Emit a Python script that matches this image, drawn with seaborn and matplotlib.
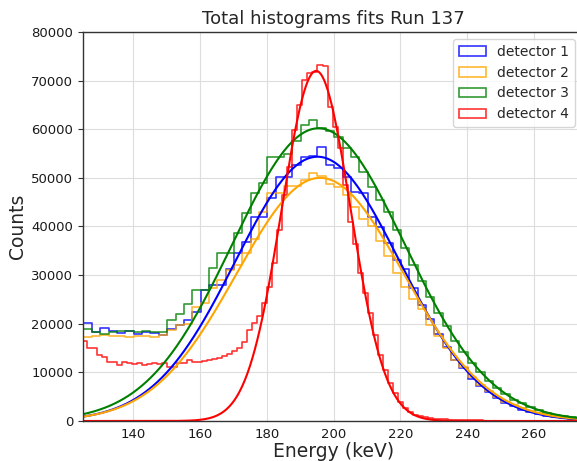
import numpy as np
import pandas as pd
import matplotlib
matplotlib.use("Agg")
import matplotlib.pyplot as plt
import seaborn as sns
from matplotlib.patches import Patch

# ---------------------------------------------------------------- data
detectors = ["detector 1", "detector 2", "detector 3", "detector 4"]
colors = ["blue", "orange", "green", "red"]

# detectors 1-3 share 2.5 keV bins, detector 4 uses 1.5 keV bins
bins_a_start, bins_a_width = 122.7, 2.5
bins_b_start, bins_b_width = 124.7, 1.5

counts_det1 = [20100, 20100, 18240, 19190, 18580, 18170, 18580, 17870, 18240, 18040,
               17690, 18860, 19740, 20700, 22480, 26940, 27970, 27970, 31200, 34550,
               36800, 42020, 42020, 45800, 50250, 50250, 52650, 54350, 54400, 56290,
               52650, 51970, 50250, 47160, 46800, 42020, 39960, 36550, 33100, 31200,
               27300, 23800, 21000, 17800, 15300, 12600, 10800, 8700, 7200, 5900,
               4700, 3800, 3000, 2300, 1800, 1400, 1050, 800, 580, 420, 300]

counts_det2 = [17200, 17200, 17400, 17700, 17500, 17400, 17200, 17400, 17500, 17200,
               17600, 18700, 19700, 19900, 23500, 24300, 27300, 29000, 31000, 32100,
               34500, 37500, 43000, 46800, 46800, 48400, 48400, 49600, 50900, 50300,
               48800, 48200, 46500, 44000, 41500, 40000, 37000, 34000, 30500, 27500,
               25000, 23000, 19800, 17500, 15000, 12600, 11000, 9000, 7500, 6200,
               5000, 4000, 3300, 2600, 2000, 1600, 1200, 900, 700, 500, 380]

counts_det3 = [18860, 18860, 18380, 17870, 18380, 18520, 18580, 18380, 18500, 18240,
               18300, 20800, 22000, 24000, 26900, 27000, 31400, 34600, 34600, 38700,
               42700, 46800, 49000, 54300, 54300, 55000, 57500, 60870, 61900, 60200,
               59640, 58470, 56080, 54230, 51270, 48190, 45450, 43040, 39280, 35500,
               32000, 28800, 25500, 22200, 19600, 16500, 14200, 12000, 10000, 8200,
               6800, 5500, 4400, 3600, 2800, 2200, 1700, 1300, 1000, 750, 560]

counts_det4 = [16500, 14950, 14950, 13500, 13230, 12200, 12200, 11520, 12050, 11860,
               11700, 11900, 11600, 11800, 11860, 11700, 11860, 11170, 11170, 11970,
               11970, 12520, 12050, 12050, 12300, 12520, 12700, 12900, 13400, 13800,
               14400, 14950, 16300, 18700, 20200, 21600, 24300, 27500, 32400, 39300,
               46500, 52300, 59800, 65000, 70100, 71500, 71700, 73200, 73000, 64600,
               60500, 56100, 48500, 41000, 36500, 30400, 26300, 22150, 17700, 13600,
               10500, 7800, 5800, 4000, 2600, 1800, 1300, 1000, 800, 600,
               500, 400, 350, 300, 250, 200, 200, 150, 120, 100,
               80, 60, 50, 50, 40, 30, 30, 20, 20, 20,
               10, 10, 10, 10, 0, 0, 0, 0, 0, 0]

# Gaussian fit results per detector
fit_amplitude = [54350, 50000, 60200, 72000]
fit_mean = [195.2, 196.0, 195.5, 194.8]
fit_sigma = [24.5, 25.0, 25.7, 10.3]

title = "Total histograms fits Run 137"
xlabel = "Energy (keV)"
ylabel = "Counts"

# ---------------------------------------------------------------- style
sns.set_style("ticks")
plt.rcParams["font.family"] = ["DejaVu Sans"]
plt.rcParams.update({
    "axes.edgecolor": "#333333",
    "axes.linewidth": 1.0,
    "xtick.color": "#333333",
    "ytick.color": "#333333",
    "xtick.labelcolor": "#1a1a1a",
    "ytick.labelcolor": "#1a1a1a",
    "xtick.major.size": 0,
    "xtick.major.pad": 5,
    "ytick.major.size": 3.5,
    "ytick.major.pad": 3.5,
})

fig = plt.figure(figsize=(5.77, 4.61), dpi=100)
ax = fig.add_axes([0.1438, 0.0868, 0.8685, 0.8438])

all_counts = [counts_det1, counts_det2, counts_det3, counts_det4]
bin_specs = [(bins_a_start, bins_a_width)] * 3 + [(bins_b_start, bins_b_width)]
hist_alpha = 0.8

for counts, (start, width), color in zip(all_counts, bin_specs, colors):
    edges = start + width * np.arange(len(counts) + 1)
    frame = pd.DataFrame({"energy": edges[:-1] + width / 2,
                          "counts": np.asarray(counts, dtype=float)})
    sns.histplot(data=frame, x="energy", weights="counts", bins=edges.tolist(),
                 element="step", fill=False, color=color, alpha=hist_alpha,
                 linewidth=1.2, ax=ax)

energy_grid = np.linspace(125, 275, 800)
for amp, mu, sig, color in zip(fit_amplitude, fit_mean, fit_sigma, colors):
    curve = amp * np.exp(-(energy_grid - mu) ** 2 / (2 * sig ** 2))
    sns.lineplot(x=energy_grid, y=curve, color=color, linewidth=1.5, ax=ax)

ax.set_xlim(125, 275)
ax.set_ylim(0, 80000)
ax.set_xticks(np.arange(140, 261, 20))
ax.set_yticks(np.arange(0, 80001, 10000))
ax.tick_params(labelsize=9.5)
ax.grid(True, color="#dddddd", linewidth=0.8)
ax.set_axisbelow(True)

ax.set_title(title, fontsize=13)
ax.set_xlabel(xlabel, fontsize=13.5, labelpad=1)
ax.set_ylabel(ylabel, fontsize=13.5, labelpad=3)

handles = [Patch(facecolor="none", edgecolor=c, alpha=hist_alpha, linewidth=1.2)
           for c in colors]
ax.legend(handles, detectors, loc="upper right", fontsize=10, framealpha=0.8,
          bbox_to_anchor=(575 / 577, 1 - 39 / 461),
          bbox_transform=fig.transFigure, borderaxespad=0)

fig.savefig("out.png", dpi=100)
